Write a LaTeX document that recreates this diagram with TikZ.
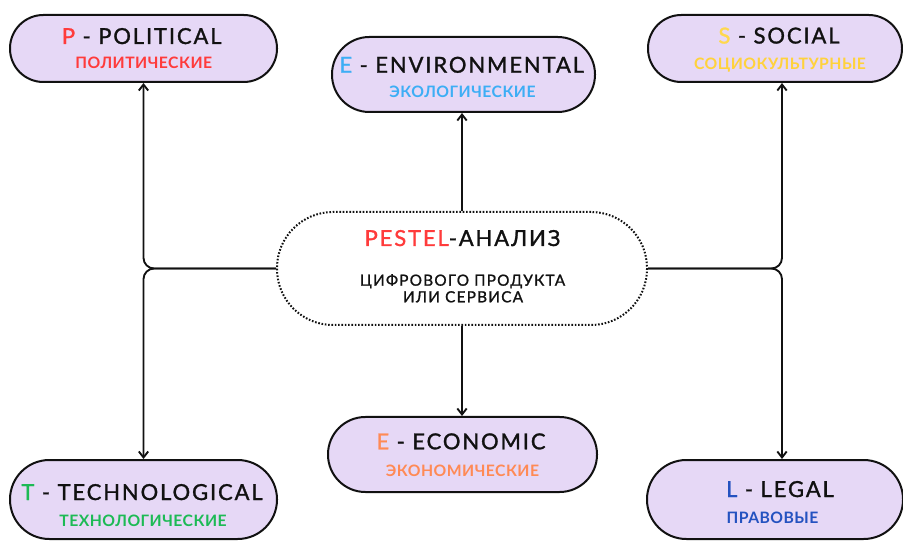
\documentclass[tikz,border=0pt]{standalone}
\usepackage{fontspec}
\setmainfont{Lato}
\newfontfamily\ttlfont[LetterSpace=8.5, FakeBold=1.3]{Lato}
\newfontfamily\subfont[LetterSpace=3]{Lato}
\newfontfamily\hubfont[LetterSpace=8, FakeBold=1.2]{Lato}
\usetikzlibrary{arrows.meta}
\definecolor{boxfill}{HTML}{E6D8F6}
\definecolor{cP}{HTML}{FF3B3B}
\definecolor{cEnv}{HTML}{3DAEF5}
\definecolor{cS}{HTML}{FFD84D}
\definecolor{cSsub}{HTML}{FFD23C}
\definecolor{cT}{HTML}{1DBA55}
\definecolor{cEc}{HTML}{FF8A55}
\definecolor{cL}{HTML}{2452C0}
\definecolor{ink}{HTML}{111111}
\tikzset{
  factor/.style={draw=ink, line width=1.5pt, fill=boxfill, inner sep=0pt},
  hub/.style={draw=ink, line width=1.5pt, dash pattern=on 1.2pt off 1.3pt, fill=white, inner sep=0pt},
  ttl/.style={font=\ttlfont\fontsize{16.5}{18}\selectfont, text=ink, inner sep=0pt, anchor=base},
  sub/.style={font=\subfont\bfseries\fontsize{11.8}{13}\selectfont, inner sep=0pt, anchor=base},
  hubsub/.style={font=\hubfont\fontsize{11.5}{13}\selectfont, text=ink, inner sep=0pt, anchor=base},
  conn/.style={draw=ink, line width=1.4pt, rounded corners=8pt, -{Straight Barb[length=4.5pt,width=7pt]}}
}
\begin{document}
\begin{tikzpicture}[x=0.75pt,y=-0.75pt]
\useasboundingbox (0,0) rectangle (903,541);
% boxes
\node[factor, minimum width=200.25pt, minimum height=50.25pt, rounded corners=25pt] (P) at (143.5,48.5) {};
\node[factor, minimum width=197.25pt, minimum height=56.25pt, rounded corners=28pt] (E) at (463.5,74.5) {};
\node[factor, minimum width=190.5pt, minimum height=50.25pt, rounded corners=25pt] (S) at (775,48.5) {};
\node[hub, minimum width=277.5pt, minimum height=84.75pt, rounded corners=42pt] (C) at (462,268.5) {};
\node[factor, minimum width=200.25pt, minimum height=59.25pt, rounded corners=29.5pt] (T) at (143.5,499.5) {};
\node[factor, minimum width=201.75pt, minimum height=56.25pt, rounded corners=28pt] (Ec) at (462.5,454.5) {};
\node[factor, minimum width=192pt, minimum height=59.25pt, rounded corners=29.5pt] (L) at (775,499.5) {};
% texts
\node[ttl] (Pa) at (141.7,44) {\textcolor{cP}{P} - POLITICAL};
\node[sub, text=cP] (Pb) at (143.8,69) {ПОЛИТИЧЕСКИЕ};
\node[ttl] (Ea) at (461.7,72.7) {\textcolor{cEnv}{E} - ENVIRONMENTAL};
\node[sub, text=cEnv] (Eb) at (462.5,97.7) {ЭКОЛОГИЧЕСКИЕ};
\node[ttl] (Sa) at (779,43.5) {\textcolor{cS}{S} - SOCIAL};
\node[sub, text=cSsub] (Sb) at (780,69.5) {СОЦИОКУЛЬТУРНЫЕ};
\node[ttl] (Ca) at (462.5,246) {\textcolor{cP}{PESTEL}-АНАЛИЗ};
\node[hubsub] (Cb) at (462.5,285.7) {ЦИФРОВОГО ПРОДУКТА};
\node[hubsub] (Cc) at (463,302.3) {ИЛИ СЕРВИСА};
\node[ttl] (Ta) at (142,500) {\textcolor{cT}{T} - TECHNOLOGICAL};
\node[sub, text=cT] (Tb) at (143,526) {ТЕХНОЛОГИЧЕСКИЕ};
\node[ttl] (Eca) at (461,449.3) {\textcolor{cEc}{E} - ECONOMIC};
\node[sub, text=cEc] (Ecb) at (462.5,476.7) {ЭКОНОМИЧЕСКИЕ};
\node[ttl] (La) at (780,497) {\textcolor{cL}{L} - LEGAL};
\node[sub, text=cL] (Lb) at (772.5,523.3) {ПРАВОВЫЕ};
% connectors
\coordinate (rj) at (782,268.5);
\draw[conn] (C.west) -| (P.south);
\draw[conn] (C.west) -| (T.north);
\draw[conn] (C.east) -| (S.south -| rj);
\draw[conn] (C.east) -| (L.north -| rj);
\draw[conn] (C.north) -- (C.north |- E.south);
\draw[conn] (C.south) -- (C.south |- Ec.north);
\end{tikzpicture}
\end{document}
